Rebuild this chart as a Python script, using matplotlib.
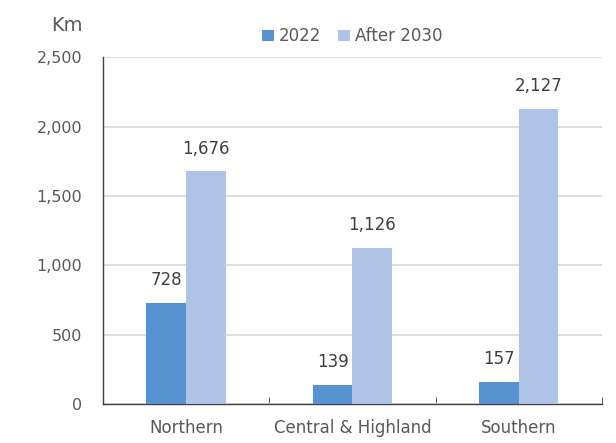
import matplotlib
matplotlib.use("Agg")
import matplotlib.pyplot as plt
import numpy as np

regions = ["Northern", "Central & Highland", "Southern"]
km_2022 = [728, 139, 157]
km_2030 = [1676, 1126, 2127]
series_names = ["2022", "After 2030"]

DARK = "#5592cf"
LIGHT = "#aec3e6"
TEXT = "#595959"


def plot_chart() -> None:
    plt.rcParams["font.family"] = "DejaVu Sans"
    fig = plt.figure(figsize=(6.16, 4.43), dpi=100)
    ax = fig.add_axes([0.167, 0.088, 0.81, 0.783])

    x = np.arange(len(regions))
    w = 0.238
    b1 = ax.bar(x - w / 2, km_2022, w, color=DARK, label=series_names[0], zorder=3)
    b2 = ax.bar(x + w / 2, km_2030, w, color=LIGHT, label=series_names[1], zorder=3)

    for bars in (b1, b2):
        for rect in bars:
            v = rect.get_height()
            ax.annotate(f"{v:,.0f}", (rect.get_x() + rect.get_width() / 2, v),
                        xytext=(0, 10), textcoords="offset points",
                        ha="center", va="bottom", fontsize=12, color="#404040")

    ax.set_xlim(-0.5, len(regions) - 0.5)
    ax.set_ylim(0, 2500)
    ax.set_yticks(range(0, 2501, 500))
    ax.set_yticklabels([f"{t:,}" for t in range(0, 2501, 500)])
    ax.set_xticks(x)
    ax.set_xticklabels(regions)
    ax.set_xticks(np.arange(-0.5, len(regions), 1), minor=True)

    ax.grid(axis="y", color="#d9d9d9", linewidth=1.2, zorder=0)
    for s in ("top", "right"):
        ax.spines[s].set_visible(False)
    for s in ("left", "bottom"):
        ax.spines[s].set_color("#404040")
        ax.spines[s].set_linewidth(1.0)

    ax.tick_params(axis="x", which="major", length=0, pad=11, labelsize=12, labelcolor=TEXT)
    ax.tick_params(axis="x", which="minor", length=5, direction="in", color="#404040")
    ax.tick_params(axis="y", length=0, pad=15, labelsize=11.5, labelcolor=TEXT)

    fig.text(0.134, 0.943, "Km", fontsize=14, color=TEXT, ha="right", va="center")
    ax.legend(loc="lower center", bbox_to_anchor=(0.5, 1.0), ncol=2, frameon=False,
              fontsize=12, labelcolor=TEXT, handlelength=0.7, handleheight=0.7,
              handletextpad=0.3, columnspacing=1.0, borderaxespad=0.3)

    fig.savefig("out.png", dpi=100)


if __name__ == "__main__":
    plot_chart()
